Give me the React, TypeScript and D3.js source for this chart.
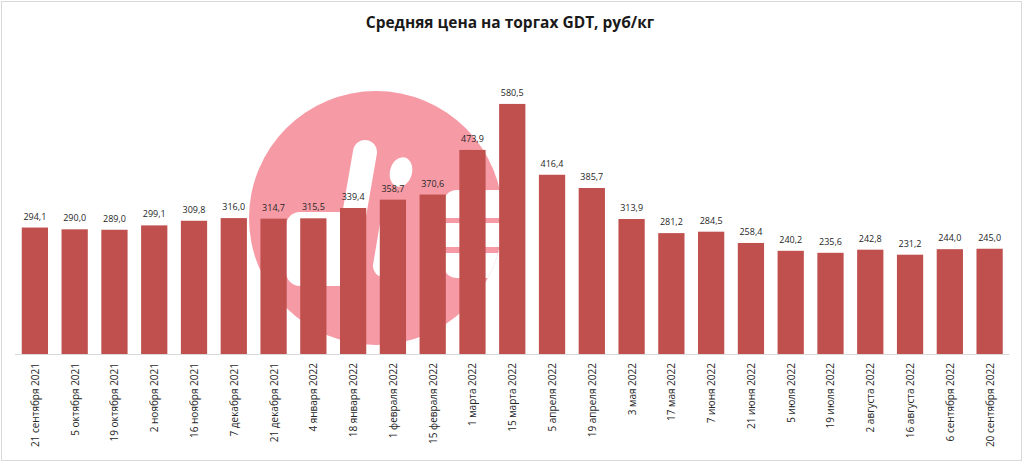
import React, { useEffect, useRef } from 'react';
import * as d3 from 'd3';

// data
const categories = [
  '21 сентября 2021', '5 октября 2021', '19 октября 2021', '2 ноября 2021', '16 ноября 2021',
  '7 декабря 2021', '21 декабря 2021', '4 января 2022', '18 января 2022', '1 февраля 2022',
  '15 февраля 2022', '1 марта 2022', '15 марта 2022', '5 апреля 2022', '19 апреля 2022',
  '3 мая 2022', '17 мая 2022', '7 июня 2022', '21 июня 2022', '5 июля 2022',
  '19 июля 2022', '2 августа 2022', '16 августа 2022', '6 сентября 2022', '20 сентября 2022',
];
const prices = [
  294.1, 290.0, 289.0, 299.1, 309.8, 316.0, 314.7, 315.5, 339.4, 358.7,
  370.6, 473.9, 580.5, 416.4, 385.7, 313.9, 281.2, 284.5, 258.4, 240.2,
  235.6, 242.8, 231.2, 244.0, 245.0,
];
const title = 'Средняя цена на торгах GDT, руб/кг';

const W = 1024;
const H = 463;
const FONT = "'Open Sans', 'DejaVu Sans', sans-serif";

const drawChart = (el: SVGSVGElement) => {
  const svg = d3.select(el);
  svg.selectAll('*').remove();

  // frame
  svg.append('rect').attr('width', W).attr('height', H).attr('fill', '#fff');
  svg
    .append('rect')
    .attr('x', 1.5)
    .attr('y', 1.5)
    .attr('width', 1020)
    .attr('height', 459)
    .attr('fill', 'none')
    .attr('stroke', '#d9d9d9');

  const x = d3.scaleBand<string>().domain(categories).range([15, 1009.5]).paddingInner(0.34).paddingOuter(0.17);
  const y = d3.scaleLinear().domain([0, 600]).range([354.5, 95.5]);

  // watermark
  const wm = svg.append('g');
  const defs = svg.append('defs');
  defs.append('clipPath').attr('id', 'wmClip').append('circle').attr('cx', 376).attr('cy', 218).attr('r', 127);
  wm.append('circle').attr('cx', 376).attr('cy', 218).attr('r', 127).attr('fill', '#f69ba6');
  const logo = wm.append('g').attr('clip-path', 'url(#wmClip)').attr('fill', '#fff').attr('stroke', '#fff');
  logo.append('rect').attr('x', 286).attr('y', 212).attr('width', 66).attr('height', 74).attr('rx', 14).attr('stroke', 'none');
  logo.append('line').attr('x1', 365).attr('y1', 152).attr('x2', 346).attr('y2', 262).attr('stroke-width', 24).attr('stroke-linecap', 'round');
  logo.append('ellipse').attr('cx', 401).attr('cy', 172).attr('rx', 11).attr('ry', 15).attr('transform', 'rotate(15,401,172)').attr('stroke', 'none');
  logo.append('line').attr('x1', 393).attr('y1', 212).attr('x2', 384).attr('y2', 266).attr('stroke-width', 22).attr('stroke-linecap', 'round');
  logo.append('rect').attr('x', 443).attr('y', 190).attr('width', 80).attr('height', 88).attr('rx', 14).attr('stroke', 'none');
  logo.append('rect').attr('x', 443).attr('y', 218).attr('width', 80).attr('height', 5).attr('fill', '#f69ba6').attr('stroke', 'none');
  logo.append('rect').attr('x', 443).attr('y', 247).attr('width', 80).attr('height', 6).attr('fill', '#f69ba6').attr('stroke', 'none');

  // title
  svg
    .append('text')
    .attr('x', 510)
    .attr('y', 28)
    .attr('text-anchor', 'middle')
    .attr('font-family', FONT)
    .attr('font-weight', 'bold')
    .attr('font-size', 15.5)
    .attr('fill', '#1a1a1a')
    .text(title);

  // bars
  svg
    .append('g')
    .selectAll('rect')
    .data(prices)
    .join('rect')
    .attr('x', (_, i) => x(categories[i])!)
    .attr('y', (d) => y(d))
    .attr('width', x.bandwidth())
    .attr('height', (d) => y(0) - y(d))
    .attr('fill', '#c0504d');

  // axis line
  svg
    .append('line')
    .attr('x1', 15)
    .attr('x2', 1009.5)
    .attr('y1', y(0))
    .attr('y2', y(0))
    .attr('stroke', '#d9d9d9');

  // value labels
  svg
    .append('g')
    .selectAll('text')
    .data(prices)
    .join('text')
    .attr('x', (_, i) => x(categories[i])! + x.bandwidth() / 2)
    .attr('y', (d) => y(d) - 8)
    .attr('text-anchor', 'middle')
    .attr('font-family', FONT)
    .attr('font-size', 9)
    .attr('fill', '#262626')
    .text((d) => d3.format('.1f')(d).replace('.', ','));

  // category labels
  svg
    .append('g')
    .selectAll('text')
    .data(categories)
    .join('text')
    .attr('transform', (d) => `translate(${x(d)! + x.bandwidth() / 2 + 4},363) rotate(-90)`)
    .attr('text-anchor', 'end')
    .attr('font-family', FONT)
    .attr('font-size', 10)
    .attr('fill', '#262626')
    .text((d) => d);
};

export default function App() {
  const ref = useRef<SVGSVGElement>(null);
  useEffect(() => {
    if (ref.current) drawChart(ref.current);
  }, []);
  return (
    <svg
      ref={ref}
      width={W}
      height={H}
      style={{ position: 'absolute', left: 0, top: 0, display: 'block' }}
    />
  );
}
